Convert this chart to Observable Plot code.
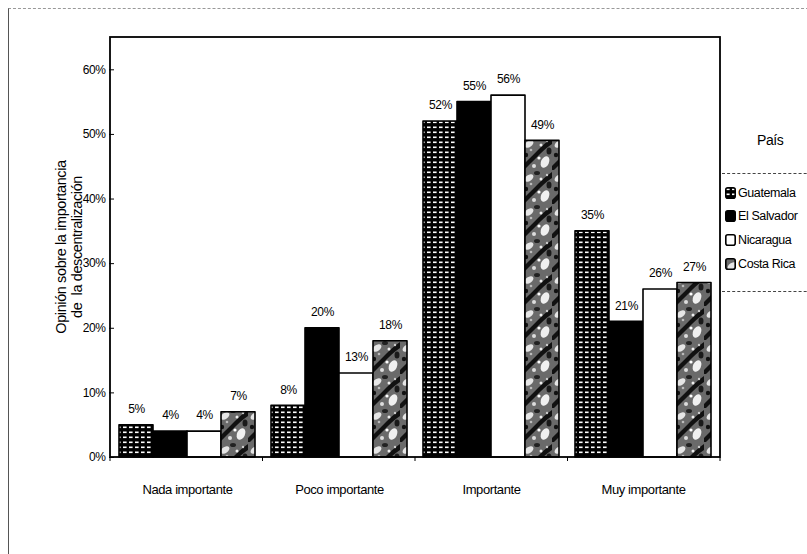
<!DOCTYPE html>
<html>
<head>
<meta charset="utf-8">
<script src="https://cdn.jsdelivr.net/npm/d3@7"></script>
<script src="https://cdn.jsdelivr.net/npm/@observablehq/plot@0.6"></script>
<style>
  html, body { margin: 0; padding: 0; background: #fff; }
  body { width: 807px; height: 554px; position: relative; overflow: hidden;
         font-family: "Liberation Sans", Arial, sans-serif; }
  #outer { position: absolute; left: 8px; top: 8px; width: 820px; height: 560px;
           border-left: 1px solid #555; border-top: 1px dashed #999; }
  #chart { position: absolute; left: 0; top: 0; }
  #legend { position: absolute; left: 720px; top: 130px; width: 95px; font-size: 12.5px; color: #000; letter-spacing: -0.4px; }
  #legend .title { position: absolute; left: 37px; top: 2px; font-size: 14px; }
  #legend .box { position: absolute; left: 2px; top: 43px; width: 100px; height: 117px;
                 border-top: 1px dashed #444; border-bottom: 1px dashed #444; }
  #legend .item { position: absolute; left: 5px; height: 14px; line-height: 14px; white-space: nowrap; }
  #legend .item svg { vertical-align: -2px; margin-right: 2px; }
</style>
</head>
<body>
<svg width="0" height="0" style="position:absolute">
  <defs>
    <pattern id="pg" width="6" height="5" patternUnits="userSpaceOnUse">
      <rect width="6" height="5" fill="#000"/>
      <rect x="1" y="1.5" width="3.6" height="1.6" fill="#fff"/>
    </pattern>
    <pattern id="pc" width="30" height="34" patternUnits="userSpaceOnUse">
      <rect width="30" height="34" fill="#6a6a6a"/>
      <path d="M0,30 C6,24 10,20 16,14 C20,10 24,6 30,2 L30,8 C24,12 20,16 16,20 C10,26 6,30 2,34 L0,34 Z" fill="#111"/>
      <ellipse cx="7" cy="8" rx="5" ry="3" fill="#e6e6e6" transform="rotate(-35 7 8)"/>
      <ellipse cx="23" cy="26" rx="4" ry="6" fill="#f0f0f0" transform="rotate(25 23 26)"/>
      <ellipse cx="15" cy="3" rx="3" ry="2" fill="#222"/>
      <ellipse cx="27" cy="15" rx="2.5" ry="3.5" fill="#1a1a1a"/>
      <circle cx="12" cy="30" r="2" fill="#ddd"/>
      <circle cx="4" cy="19" r="2.2" fill="#111"/>
      <circle cx="19" cy="9" r="1.5" fill="#eee"/>
      <circle cx="9" cy="14" r="1.3" fill="#bbb"/>
      <circle cx="25" cy="5" r="1.2" fill="#ccc"/>
      <circle cx="17" cy="22" r="1.6" fill="#fff"/>
    </pattern>
  </defs>
</svg>
<div id="outer"></div>
<div id="chart"></div>
<div id="legend"></div>
<script>
const categories = ["Nada importante", "Poco importante", "Importante", "Muy importante"];
const countries = ["Guatemala", "El Salvador", "Nicaragua", "Costa Rica"];
const guatemala  = [5, 8, 52, 35];
const elSalvador = [4, 20, 55, 21];
const nicaragua  = [4, 13, 56, 26];
const costaRica  = [7, 18, 49, 27];
const yTicks = [0, 10, 20, 30, 40, 50, 60];
const fills = ["url(#pg)", "#000", "#fff", "url(#pc)"];

const seriesValues = [guatemala, elSalvador, nicaragua, costaRica];
const data = [];
categories.forEach((c, i) => countries.forEach((k, j) => data.push({category: c, country: k, value: seriesValues[j][i]})));

const W = 807, H = 554, mL = 110, mR = 87, mT = 37, mB = 97;
const fontFam = '"Liberation Sans", Arial, sans-serif';

const plot = Plot.plot({
  width: W, height: H,
  marginLeft: mL, marginRight: mR, marginTop: mT, marginBottom: mB,
  style: {fontFamily: fontFam, fontSize: "12px", color: "#000", background: "transparent", letterSpacing: "-0.4px"},
  fx: {domain: categories, paddingInner: 0.095, paddingOuter: 0.0475, label: null},
  x: {domain: countries, padding: 0, axis: null},
  y: {domain: [0, 65], label: null},
  color: {type: "ordinal", domain: countries, range: fills},
  marks: [
    Plot.axisY({ticks: yTicks, tickFormat: d => d + "%", tickSize: 5, tickPadding: 4, fontSize: 12, label: null, stroke: "#000", fill: "#000", dx: -4}),
    Plot.axisFx({anchor: "bottom", tickSize: 0, tickPadding: 27, fontSize: 13, label: null}),
    Plot.barY(data, {fx: "category", x: "country", y: "value", fill: "country",
                     stroke: "#000", strokeWidth: 1.6, strokeLinejoin: "round"}),
    Plot.text(data, {fx: "category", x: "country", y: "value", text: d => d.value + "%",
                     dy: -16, fontSize: 12, fill: "#000"})
  ]
});
document.getElementById("chart").appendChild(plot);

// plot frame and bottom ticks at group boundaries
const svg = d3.select(plot);
const g = svg.append("g");
g.append("rect").attr("x", mL).attr("y", mT).attr("width", W - mL - mR).attr("height", H - mT - mB)
  .attr("fill", "none").attr("stroke", "#000").attr("stroke-width", 1.8);
categories.concat([null]).forEach((c, i) => {
  const xx = mL + i * (W - mL - mR) / categories.length;
  g.append("line").attr("x1", xx).attr("x2", xx).attr("y1", H - mB).attr("y2", H - mB + 4)
    .attr("stroke", "#000").attr("stroke-width", 1);
});
// y-axis title
const t = svg.append("text").attr("transform", `translate(70,${(mT + H - mB) / 2}) rotate(-90)`)
  .attr("text-anchor", "middle").attr("font-size", 14.5).attr("font-family", fontFam).attr("fill", "#000")
  .attr("letter-spacing", "-0.4px");
t.append("tspan").attr("x", 0).attr("dy", "-0.25em").text("Opinión sobre la importancia");
t.append("tspan").attr("x", 0).attr("dy", "1.1em").text("de  la descentralización");

// legend
const leg = d3.select("#legend");
leg.append("div").attr("class", "title").text("País");
leg.append("div").attr("class", "box");
const ys = [56, 79, 103, 127];
countries.forEach((k, i) => {
  const it = leg.append("div").attr("class", "item").style("top", ys[i] + "px");
  const s = it.append("svg").attr("width", 11).attr("height", 12);
  s.append("rect").attr("x", 0.8).attr("y", 0.8).attr("width", 9.4).attr("height", 10.4).attr("rx", 2)
    .attr("fill", fills[i]).attr("stroke", "#000").attr("stroke-width", 1.6);
  it.append("span").text(k);
});
</script>
</body>
</html>
